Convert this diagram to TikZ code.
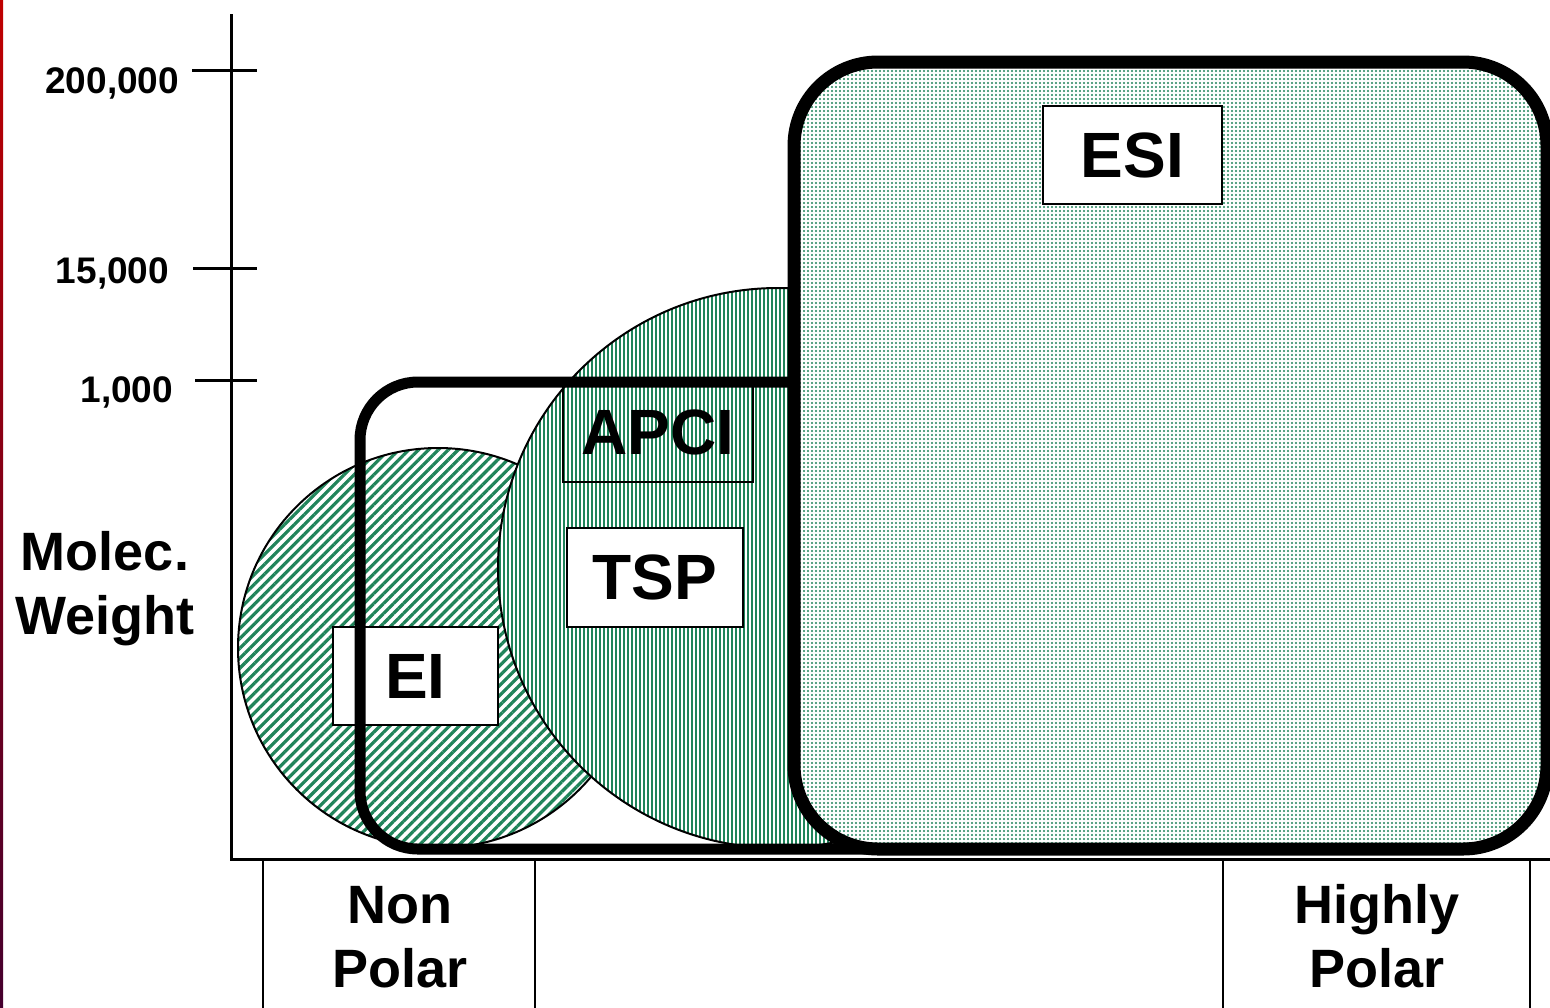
\documentclass[tikz,border=0pt]{standalone}
\usepackage{fontspec}
\setmainfont{Liberation Sans}
\usetikzlibrary{patterns.meta}
\definecolor{ionGreen}{RGB}{32,132,90}
\tikzset{
  ticklab/.style={font=\fontsize{18.5}{22}\selectfont\bfseries, inner sep=0pt},
  axislab/.style={font=\fontsize{27}{32}\selectfont\bfseries, align=center, inner sep=0pt},
  ionbox/.style={draw, line width=1pt, font=\fontsize{32}{38}\selectfont\bfseries, inner sep=0pt},
  region/.style={line width=5.5pt, rounded corners=29pt},
}
\begin{document}
\begin{tikzpicture}[x=0.5pt,y=-0.5pt]

            \useasboundingbox (0,0) rectangle (1550,1007);
            \shade[top color=red!75!black, bottom color=blue!40!red!45!black] (0,0) rectangle (3,1007);

            % EI and APCI ranges
            \draw[line width=1pt, preaction={fill=white}, pattern={Lines[angle=45,distance=3.5pt,line width=1.6pt]}, pattern color=ionGreen] (438,648) circle[radius=100pt];
            \draw[line width=1pt, preaction={fill=white}, pattern={Lines[angle=90,distance=2pt,line width=0.9pt]}, pattern color=ionGreen] (778,568) circle[radius=140pt];
            \node[ionbox, fill=white, minimum width=82.5pt, minimum height=49pt] (ei) at (415.5,676) {EI};

            % TSP and ESI ranges
            \draw[region] (360,382) rectangle (1000,849);
            \draw[line width=6.5pt, rounded corners=42pt, preaction={fill=white}, pattern={Dots[radius=0.55pt,distance=2pt]}, pattern color=ionGreen] (794,62) rectangle (1547,849);

            \node[ionbox, minimum width=95pt, minimum height=49.5pt] (apci) at (658,432.5) {APCI};
            \node[ionbox, fill=white, minimum width=88pt, minimum height=49.5pt] (tsp) at (655,577.5) {TSP};
            \node[ionbox, fill=white, minimum width=89.5pt, minimum height=49pt] (esi) at (1132.5,155) {ESI};

            % axes
            \draw[line width=1.5pt] (231,14) -- (231,859) -- (1550,859);
            \draw[line width=1.5pt] (192,70) -- (257,70);
            \draw[line width=1.5pt] (193,268) -- (257,268);
            \draw[line width=1.5pt] (195,380) -- (257,380);
            \node[ticklab, anchor=base east] (mw200k) at (179.5,93) {200,000};
            \node[ticklab, anchor=base east] (mw15k) at (169.5,283) {15,000};
            \node[ticklab, anchor=base east] (mw1k) at (173.5,402) {1,000};
            \node[axislab] (mw) at (105,589) {Molec.\\Weight};

            \draw[line width=1.2pt] (263,1020) -- (263,859) -- (535,859) -- (535,1020);
            \draw[line width=1.2pt] (1223,1020) -- (1223,859) -- (1530,859) -- (1530,1020);
            \node[axislab] (nonpolar) at (400,937) {Non\\Polar};
            \node[axislab] (highpolar) at (1377,936) {Highly\\Polar};

        \end{tikzpicture}
\end{document}
